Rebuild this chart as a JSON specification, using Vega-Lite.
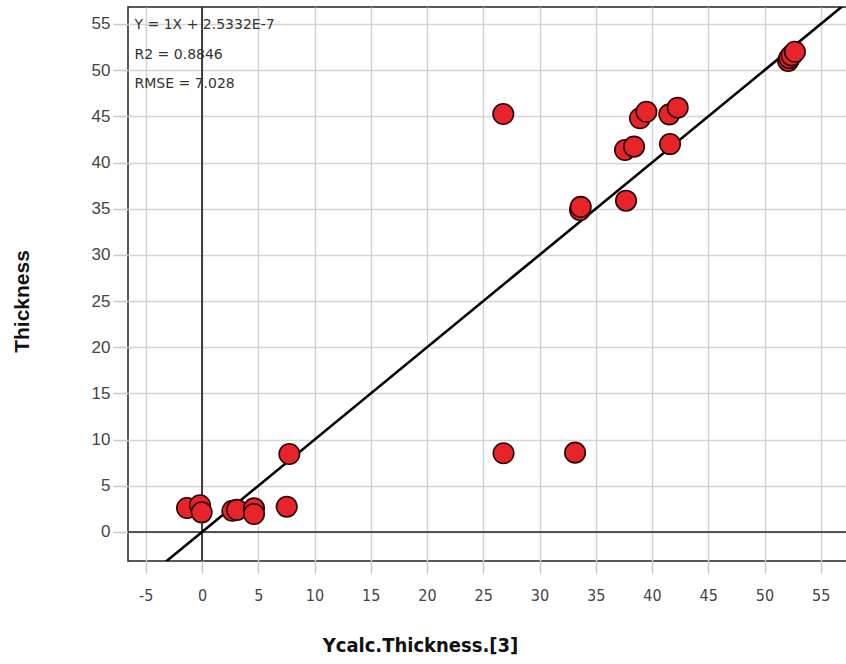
{
  "$schema": "https://vega.github.io/schema/vega-lite/v6.json",
  "autosize": "none",
  "width": 720,
  "height": 554,
  "padding": {"left": 128, "top": 7, "right": 0, "bottom": 103},
  "background": "white",
  "config": {
    "view": {"stroke": "#222222", "strokeWidth": 1.5},
    "axis": {
      "gridColor": "#d4d4d4",
      "gridWidth": 1.5,
      "tickColor": "#c8c8c8",
      "tickWidth": 1.5,
      "domain": false,
      "labelColor": "#444444",
      "titleColor": "#111111"
    }
  },
  "datasets": {
    "points": [
      {"ycalc": -1.33, "thickness": 2.6},
      {"ycalc": -0.18, "thickness": 2.9},
      {"ycalc": -0.03, "thickness": 2.13},
      {"ycalc": 2.7, "thickness": 2.3},
      {"ycalc": 3.1, "thickness": 2.4},
      {"ycalc": 4.62, "thickness": 2.56},
      {"ycalc": 4.62, "thickness": 1.95},
      {"ycalc": 7.53, "thickness": 2.74},
      {"ycalc": 7.76, "thickness": 8.45},
      {"ycalc": 26.8, "thickness": 8.52},
      {"ycalc": 33.16, "thickness": 8.59},
      {"ycalc": 26.78, "thickness": 45.26},
      {"ycalc": 33.6, "thickness": 34.86},
      {"ycalc": 33.66, "thickness": 35.2},
      {"ycalc": 37.69, "thickness": 35.87},
      {"ycalc": 37.6, "thickness": 41.36},
      {"ycalc": 38.4, "thickness": 41.72},
      {"ycalc": 38.93, "thickness": 44.79},
      {"ycalc": 39.5, "thickness": 45.5},
      {"ycalc": 41.6, "thickness": 42.0},
      {"ycalc": 41.54, "thickness": 45.22},
      {"ycalc": 42.28, "thickness": 45.94},
      {"ycalc": 52.1, "thickness": 51.0},
      {"ycalc": 52.2, "thickness": 51.3},
      {"ycalc": 52.4, "thickness": 51.6},
      {"ycalc": 52.7, "thickness": 52.0}
    ],
    "fit": [
      {"ycalc": -10, "thickness": -10},
      {"ycalc": 70, "thickness": 70}
    ],
    "stats": [
      {"ycalc": -6.0, "thickness": 54.9, "label": "Y = 1X + 2.5332E-7"},
      {"ycalc": -6.0, "thickness": 51.6, "label": "R2 = 0.8846"},
      {"ycalc": -6.0, "thickness": 48.5, "label": "RMSE = 7.028"}
    ]
  },
  "encoding": {
    "x": {
      "field": "ycalc",
      "type": "quantitative",
      "scale": {"domain": [-6.58, 57.42], "nice": false, "zero": false},
      "axis": {
        "values": [-5, 0, 5, 10, 15, 20, 25, 30, 35, 40, 45, 50, 55],
        "labelExpr": "'' + datum.value",
        "title": "Ycalc.Thickness.[3]",
        "titleFont": "'DejaVu Sans Condensed', 'Liberation Sans', sans-serif",
        "titleFontSize": 20,
        "titleFontWeight": "bold",
        "titleX": 292,
        "titleY": 84,
        "titleAlign": "center",
        "titleBaseline": "middle",
        "labelFont": "'DejaVu Sans Condensed', 'Liberation Sans', sans-serif",
        "labelFontSize": 16,
        "labelPadding": 14,
        "tickSize": 12
      }
    },
    "y": {
      "field": "thickness",
      "type": "quantitative",
      "scale": {"domain": [-3.14, 56.84], "nice": false, "zero": false},
      "axis": {
        "values": [0, 5, 10, 15, 20, 25, 30, 35, 40, 45, 50, 55],
        "title": "Thickness",
        "titleFont": "Liberation Sans",
        "titleFontSize": 21,
        "titleFontWeight": "bold",
        "titleX": -106,
        "titleY": 294,
        "titleAlign": "center",
        "titleBaseline": "middle",
        "labelFont": "Liberation Sans",
        "labelFontSize": 17,
        "labelPadding": 3,
        "tickSize": 15
      }
    }
  },
  "layer": [
    {
      "data": {"name": "fit"},
      "mark": {"type": "rule", "color": "#222222", "strokeWidth": 1.2},
      "encoding": {"x": {"datum": 0}, "y": null}
    },
    {
      "data": {"name": "fit"},
      "mark": {"type": "rule", "color": "#222222", "strokeWidth": 1.2},
      "encoding": {"y": {"datum": 0}, "x": null}
    },
    {
      "data": {"name": "fit"},
      "mark": {"type": "line", "color": "#000000", "strokeWidth": 2.6, "clip": true}
    },
    {
      "data": {"name": "points"},
      "mark": {
        "type": "point",
        "shape": "circle",
        "filled": true,
        "size": 420,
        "fill": "#e8242b",
        "fillOpacity": 1,
        "stroke": "#2a0505",
        "strokeWidth": 1.6
      }
    },
    {
      "data": {"name": "stats"},
      "mark": {
        "type": "text",
        "align": "left",
        "baseline": "middle",
        "font": "DejaVu Sans",
        "fontSize": 14,
        "color": "#333333"
      },
      "encoding": {"text": {"field": "label"}}
    }
  ]
}
